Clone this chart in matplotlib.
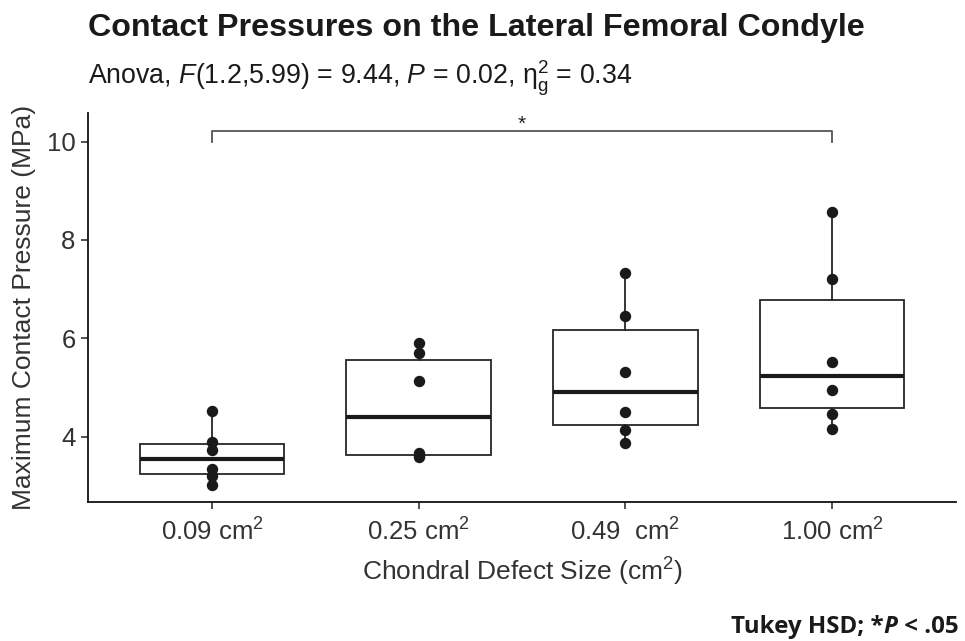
import matplotlib.pyplot as plt

plt.rcParams['font.family'] = ['Liberation Sans', 'DejaVu Sans']
plt.rcParams['mathtext.fontset'] = 'custom'
plt.rcParams['mathtext.rm'] = 'Liberation Sans'
plt.rcParams['mathtext.it'] = 'Liberation Sans:italic'
plt.rcParams['mathtext.bf'] = 'Liberation Sans:bold'

# defect sizes and contact pressures (MPa)
sizes = ['0.09 cm$^2$', '0.25 cm$^2$', '0.49  cm$^2$', '1.00 cm$^2$']
p_009 = [3.02, 3.20, 3.35, 3.72, 3.90, 4.52]
p_025 = [3.58, 3.62, 3.66, 5.14, 5.70, 5.90]
p_049 = [3.88, 4.14, 4.51, 5.32, 6.45, 7.32]
p_100 = [4.16, 4.47, 4.95, 5.51, 7.20, 8.57]
groups = [p_009, p_025, p_049, p_100]

# Tukey comparison shown on the plot
sig_pair = (1, 4)
sig_y = 10.22
sig_label = '*'

edge = '#262626'
fig = plt.figure(figsize=(9.65, 6.41), dpi=100)
ax = fig.add_axes([0.0912, 0.2168, 0.8995, 0.6069])

pos = list(range(1, len(groups) + 1))
ax.boxplot(groups, positions=pos, widths=0.7, whis=1.5, showcaps=False,
           showfliers=False, patch_artist=True,
           boxprops=dict(facecolor='white', edgecolor=edge, linewidth=1.3),
           whiskerprops=dict(color=edge, linewidth=1.3),
           medianprops=dict(color='#1a1a1a', linewidth=3.0))

for i, g in enumerate(groups):
    ax.plot([pos[i]] * len(g), g, 'o', color='#1a1a1a', ms=7.2, zorder=5)

# significance bracket
x1, x2 = sig_pair
ax.plot([x1, x1, x2, x2], [10.0, sig_y, sig_y, 10.0], color='#555555', lw=1.3)
ax.text((x1 + x2) / 2, sig_y + 0.12, sig_label, ha='center', va='center',
        fontsize=15, color='#222222')

ax.set_xlim(0.4, 4.6)
ax.set_ylim(2.67, 10.58)
ax.set_xticks(pos)
ax.set_xticklabels(sizes)
ax.set_yticks([4, 6, 8, 10])
for s in ['top', 'right']:
    ax.spines[s].set_visible(False)
for s in ['left', 'bottom']:
    ax.spines[s].set_linewidth(1.3)
    ax.spines[s].set_color('#111111')
ax.tick_params(length=5, width=1.2, colors='#333333', labelsize=18.5, pad=4)
ax.tick_params(axis='x', pad=7)

ax.set_xlabel('Chondral Defect Size (cm$^2$)', fontsize=19, color='#333333', labelpad=7)
ax.set_ylabel('Maximum Contact Pressure (MPa)', fontsize=19, color='#333333', labelpad=8)

fig.text(0.0912, 0.957, 'Contact Pressures on the Lateral Femoral Condyle',
         fontsize=23.2, fontweight='bold', color='#1a1a1a', va='center')
fig.text(0.0912, 0.878,
         r'Anova, $\it{F}$(1.2,5.99) = 9.44, $\it{P}$ = 0.02, $\mathrm{\eta}_\mathrm{g}^2$ = 0.34',
         fontsize=19.3, color='#1a1a1a', va='center')

# footer note, bold with an italic P
foot = dict(fontsize=17.4, fontweight='bold', family=['Open Sans', 'DejaVu Sans'],
            color='#1a1a1a')
t3 = fig.text(0.993, 0.003, ' < .05', ha='right', va='bottom', **foot)
a2 = ax.annotate('P', xy=(0, 0), xycoords=t3, ha='right', va='bottom',
                 style='italic', **foot)
ax.annotate('Tukey HSD; *', xy=(0, 0), xycoords=a2, ha='right', va='bottom', **foot)

fig.savefig('out.png', dpi=100)
